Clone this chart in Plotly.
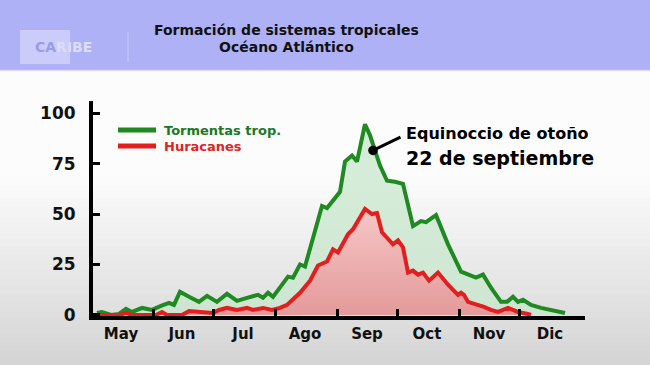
import plotly.graph_objects as go

# ---- data (days counted from 1 May) ----
meses = ["May", "Jun", "Jul", "Ago", "Sep", "Oct", "Nov", "Dic"]
mes_centro = [15, 45.5, 76, 107, 138, 168, 199, 229.5]
mes_limite = [31, 61, 92, 123, 153, 184, 214]
y_ticks = [0, 25, 50, 75, 100]
series_nombres = ["Tormentas trop.", "Huracanes"]

tormentas_dias = [3, 5.5, 10, 14, 17.5, 20.5, 25.5, 30.5, 35, 39, 41.5, 44.5, 49, 54, 58, 63,
                  68, 73, 78, 83.5, 86, 88.5, 91, 95.5, 98.5, 101, 104.5, 107, 108.5, 112,
                  115.5, 118, 121, 124.5, 127, 130.5, 133, 137, 139.5, 144.5, 148, 152, 156,
                  161, 165, 167.5, 172.5, 178.5, 185, 189, 192.5, 196, 200, 205, 208, 211,
                  213.5, 216, 220, 225, 230, 235, 237]
tormentas = [1, 1.5, 0, 0.5, 3, 1.5, 3.5, 2.5, 4.5, 6, 5, 11.5, 9, 6.5, 9.5, 6.5,
             10.5, 7, 8.5, 10, 8.5, 11, 9, 15, 19, 18.5, 25, 24, 29, 42,
             54, 53, 57, 61, 76, 79, 76, 94.5, 89, 74, 66.5, 66, 65,
             44, 46.5, 46, 49.5, 35, 21.5, 20, 18.5, 20, 13.5, 6.5, 6.5, 9,
             6.5, 7.5, 5, 3.5, 2.5, 1, 1]

huracanes_dias = [0, 14, 17.5, 20.5, 32.5, 35.5, 38, 45.5, 49, 54, 61, 64, 68, 73, 78, 81,
                  86, 90.5, 94.5, 98, 101, 104.5, 109.5, 113.5, 118, 121, 123.5, 128.5,
                  131, 137, 140.5, 143, 145.5, 151, 153.5, 156, 158.5, 161, 163.5, 166,
                  169, 173.5, 178.5, 181, 183.5, 185, 186.5, 188.5, 192.5, 196.5, 200,
                  203.5, 208.5, 213.5, 218.5, 220]
huracanes = [0, 0, 1, 0, 0, 1.5, 0, 0, 2, 1.5, 1, 2.5, 3.5, 2.5, 3.5, 2.5,
             3.5, 2.5, 3.5, 5, 8, 11, 17, 24.5, 26.5, 32.5, 31, 40,
             42.5, 52.5, 50, 50.5, 41, 35, 37, 33.5, 21, 22, 20, 21,
             17, 21, 15, 12.5, 10, 11, 10, 6.5, 5.5, 4, 2.5,
             1.5, 3.5, 1.5, 0.5, 0]

# ---- geometry helpers (pixel -> paper) ----
L, R, T, B = 93, 65, 101, 49
W, H = 650, 365
PW, PH = W - L - R, H - T - B


def px(x):
    return (x - L) / PW


def py(y):
    return (H - B - y) / PH


FONT = "DejaVu Sans"
GREEN = "#1f8a22"
RED = "#e41e1e"
LEG_TXT = ["#1a7a1e", "#e02424"]
LINE_COL = [GREEN, RED]

fig = go.Figure()

# fills
fig.add_trace(go.Scatter(x=tormentas_dias, y=tormentas, mode="lines", line=dict(width=0, color=GREEN),
                         fill="tozeroy", fillcolor="rgba(200,232,204,0.75)", showlegend=False,
                         hoverinfo="skip"))
fig.add_trace(go.Scatter(x=huracanes_dias, y=huracanes, mode="lines", line=dict(width=0, color=RED),
                         fill="tozeroy", showlegend=False, hoverinfo="skip",
                         fillgradient=dict(type="vertical",
                                           colorscale=[[0, "#e49a9a"], [1, "#f6c6c6"]])))
# lines
fig.add_trace(go.Scatter(x=tormentas_dias, y=tormentas, mode="lines",
                         line=dict(width=4, color=GREEN), name=series_nombres[0],
                         showlegend=False))
fig.add_trace(go.Scatter(x=huracanes_dias, y=huracanes, mode="lines",
                         line=dict(width=4, color=RED), name=series_nombres[1],
                         showlegend=False))

shapes = []
# background gradient bands (lower part of the slide)
n = 24
y0, y1 = 175, 365
c0, c1 = (252, 252, 252), (212, 212, 212)
for i in range(n):
    t = (i + 0.5) / n
    c = tuple(int(round(c0[k] + (c1[k] - c0[k]) * t)) for k in range(3))
    ya = y0 + (y1 - y0) * i / n
    yb = y0 + (y1 - y0) * (i + 1) / n + 0.5
    shapes.append(dict(type="rect", xref="paper", yref="paper", x0=px(0), x1=px(W),
                       y0=py(yb), y1=py(ya), fillcolor="rgb(%d,%d,%d)" % c,
                       line=dict(width=0), layer="below"))
# banner
shapes.append(dict(type="rect", xref="paper", yref="paper", x0=px(0), x1=px(W),
                   y0=py(70), y1=py(0), fillcolor="#afb1f6", line=dict(width=0), layer="below"))
shapes.append(dict(type="line", xref="paper", yref="paper", x0=px(0), x1=px(W),
                   y0=py(70.5), y1=py(70.5), line=dict(width=1.5, color="#dcdcf4"), layer="below"))
# logo box
shapes.append(dict(type="rect", xref="paper", yref="paper", x0=px(20), x1=px(70),
                   y0=py(64), y1=py(30), fillcolor="rgba(255,255,255,0.35)",
                   line=dict(width=0), layer="below"))
shapes.append(dict(type="line", xref="paper", yref="paper", x0=px(128), x1=px(128),
                   y0=py(62), y1=py(32), line=dict(width=1, color="rgba(255,255,255,0.35)"),
                   layer="below"))

annotations = [
    dict(text="<b>Formación de sistemas tropicales</b>", xref="paper", yref="paper",
         x=px(286), y=py(30), showarrow=False, xanchor="center", yanchor="middle",
         font=dict(family=FONT, size=14, color="#111")),
    dict(text="<b>Océano Atlántico</b>", xref="paper", yref="paper",
         x=px(286), y=py(47), showarrow=False, xanchor="center", yanchor="middle",
         font=dict(family=FONT, size=14, color="#111")),
    dict(text="<b><span style='color:#9a9de6'>CA</span><span style='color:#dcdcfb'>RIBE</span></b>",
         xref="paper", yref="paper", x=px(33), y=py(47), showarrow=False,
         xanchor="left", yanchor="middle", font=dict(family=FONT, size=14)),
    dict(text="<b>Equinoccio de otoño</b>", xref="paper", yref="paper",
         x=px(404), y=py(133), showarrow=False, xanchor="left", yanchor="middle",
         font=dict(family=FONT, size=16, color="#000")),
    dict(text="<b>22 de septiembre</b>", xref="paper", yref="paper",
         x=px(404), y=py(158), showarrow=False, xanchor="left", yanchor="middle",
         font=dict(family=FONT, size=19, color="#000")),
    dict(text="", x=141, y=81.5, xref="x", yref="y", ax=402 - 373, ay=138 - 152,
         showarrow=True, arrowhead=6, arrowsize=0.8, arrowwidth=3, arrowcolor="#000",
         standoff=0, startstandoff=0),
]

# legend (line sample + coloured label)
leg_y = [130, 146]
for i, nombre in enumerate(series_nombres):
    shapes.append(dict(type="line", xref="paper", yref="paper", x0=px(118), x1=px(156),
                       y0=py(leg_y[i]), y1=py(leg_y[i]),
                       line=dict(width=5, color=LINE_COL[i])))
    annotations.append(dict(text="<b>%s</b>" % nombre, xref="paper", yref="paper",
                            x=px(162), y=py(leg_y[i]), showarrow=False,
                            xanchor="left", yanchor="middle",
                            font=dict(family=FONT, size=13, color=LEG_TXT[i])))

fig.update_layout(
    width=W, height=H, margin=dict(l=L, r=R, t=T, b=B),
    paper_bgcolor="#fcfcfc", plot_bgcolor="rgba(0,0,0,0)",
    shapes=shapes, annotations=annotations,
    showlegend=False,
    xaxis=dict(range=[1, 247], showgrid=False, zeroline=False,
               showline=True, linewidth=4, linecolor="#000",
               tickmode="array", tickvals=mes_centro, ticktext=meses, ticks="",
               ticklabelstandoff=1,
               tickfont=dict(family=FONT, size=15, color="#111", weight="bold"),
               minor=dict(tickmode="array", tickvals=mes_limite, ticks="inside",
                          ticklen=7, tickwidth=3, tickcolor="#000", showgrid=False)),
    yaxis=dict(range=[-0.5, 106], showgrid=False, zeroline=False,
               showline=True, linewidth=4, linecolor="#000",
               tickmode="array", tickvals=y_ticks, ticks="inside", ticklen=7,
               tickwidth=3, tickcolor="#000", ticklabelstandoff=10,
               tickfont=dict(family=FONT, size=17, color="#111", weight="bold")),
)

fig.write_html("out.html", config={"displayModeBar": False},
               post_script="document.body.style.margin='0px';document.body.style.padding='0px';")
